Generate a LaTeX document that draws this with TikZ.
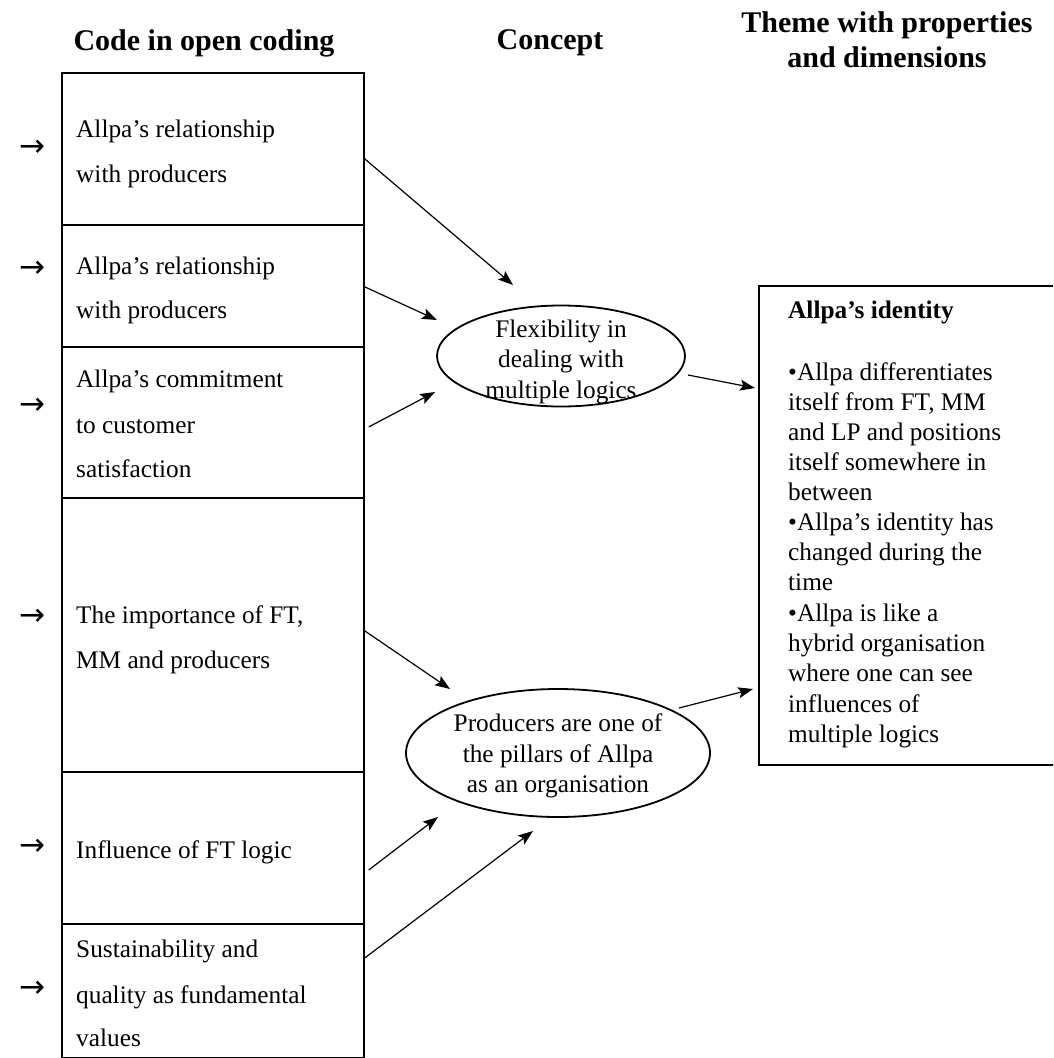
\documentclass[tikz,border=0pt]{standalone}
\usepackage{fontspec}
\setmainfont{Liberation Serif}
\newfontfamily\arrowfont{DejaVu Sans}
\usetikzlibrary{arrows.meta,shapes.geometric}
\begin{document}
\begin{tikzpicture}[x=1pt,y=-1pt,
  codebox/.style={draw, line width=1.8pt, minimum width=302pt, inner sep=0pt, anchor=north west},
  themebox/.style={draw, line width=1.8pt, minimum width=320pt, minimum height=479pt, inner sep=0pt, anchor=north west},
  ell/.style={draw, ellipse, line width=1.8pt, inner sep=0pt},
  txt/.style={anchor=base west, inner sep=0pt, font=\fontsize{25.3}{30}\selectfont},
  ctxt/.style={anchor=base, inner sep=0pt, font=\fontsize{25.3}{30}\selectfont},
  head/.style={anchor=base, inner sep=0pt, font=\fontsize{30}{35}\selectfont\bfseries},
  arrmark/.style={inner sep=0pt, font=\arrowfont\fontsize{31}{36}\selectfont},
  arr/.style={line width=1.2pt, -{Stealth[length=15pt,width=11pt,inset=3pt]}}
]
\useasboundingbox (0,0) rectangle (1053,1058);
\clip (0,0) rectangle (1053,1058);

% headers
\node[head] (h1) at (204,50) {Code in open coding};
\node[head] (h2) at (550,49) {Concept};
\node[head] (h3) at (887,32) {Theme with properties};
\node[head] (h4) at (887,67) {and dimensions};

% code boxes
\node[codebox, minimum height=152pt] (b1) at (61,72) {};
\node[codebox, minimum height=122pt] (b2) at (61,224) {};
\node[codebox, minimum height=151pt] (b3) at (61,346) {};
\node[codebox, minimum height=274pt] (b4) at (61,497) {};
\node[codebox, minimum height=152pt] (b5) at (61,771) {};
\node[codebox, minimum height=134pt] (b6) at (61,923) {};

% code texts
\node[txt] (c1a) at (76,137) {Allpa’s relationship};
\node[txt] (c1b) at (76,182) {with producers};
\node[txt] (c2a) at (76,274) {Allpa’s relationship};
\node[txt] (c2b) at (76,318) {with producers};
\node[txt] (c3a) at (76,387) {Allpa’s commitment};
\node[txt] (c3b) at (76,433) {to customer};
\node[txt] (c3c) at (76,477) {satisfaction};
\node[txt] (c4a) at (76,623) {The importance of FT,};
\node[txt] (c4b) at (76,668) {MM and producers};
\node[txt] (c5a) at (76,858) {Influence of FT logic};
\node[txt] (c6a) at (76,957) {Sustainability and};
\node[txt] (c6b) at (76,1003) {quality as fundamental};
\node[txt] (c6c) at (76,1046) {values};

% left arrow marks
\node[arrmark] (m1) at (32,148) {→};
\node[arrmark] (m2) at (32,269) {→};
\node[arrmark] (m3) at (32,406) {→};
\node[arrmark] (m4) at (32,617) {→};
\node[arrmark] (m5) at (32,847) {→};
\node[arrmark] (m6) at (32,989) {→};

% concept ellipses
\node[ell, minimum width=248pt, minimum height=101pt] (e1) at (561,356) {};
\node[ctxt] (e1a) at (561,337) {Flexibility in};
\node[ctxt] (e1b) at (561,367) {dealing with};
\node[ctxt] (e1c) at (561,398) {multiple logics};

\node[ell, minimum width=304pt, minimum height=128pt] (e2) at (558,753) {};
\node[ctxt] (e2a) at (558,731) {Producers are one of};
\node[ctxt] (e2b) at (558,762) {the pillars of Allpa};
\node[ctxt] (e2c) at (558,792) {as an organisation};

% theme box
\node[themebox] (th) at (758,285) {};
\node[txt, font=\fontsize{25.3}{30}\selectfont\bfseries] (t0) at (788,318) {Allpa’s identity};
\foreach \yy/\linetext [count=\i] in {
  380/{•Allpa differentiates},
  410/{itself from FT, MM},
  440/{and LP and positions},
  470/{itself somewhere in},
  500/{between},
  530/{•Allpa’s identity has},
  560/{changed during the},
  590/{time},
  621/{•Allpa is like a},
  651/{hybrid organisation},
  681/{where one can see},
  712/{influences of},
  742/{multiple logics}}
  \node[txt] (t\i) at (788,\yy) {\linetext};

% arrow tips
\coordinate (p1) at (513,285);
\coordinate (p2) at (437,320);
\coordinate (p3) at (435,392);
\coordinate (p4) at (450,689);
\coordinate (p5) at (438,817);
\coordinate (p6) at (533,831);
\coordinate (p7) at (755,388);
\coordinate (p8) at (753,689);

\draw[arr] ([yshift=-10pt]b1.east) -- (p1);
\draw[arr] ([yshift=-1pt]b2.east) -- (p2);
\draw[arr] ([xshift=4pt,yshift=-4.5pt]b3.east) -- (p3);
\draw[arr] ([yshift=4pt]b4.east) -- (p4);
\draw[arr] ([xshift=4pt,yshift=-22pt]b5.east) -- (p5);
\draw[arr] ([yshift=33pt]b6.east) -- (p6);
\draw[arr] ([shift={(127pt,-19pt)}]e1.center) -- (p7);
\draw[arr] ([shift={(121pt,45pt)}]e2.center) -- (p8);
\end{tikzpicture}
\end{document}
